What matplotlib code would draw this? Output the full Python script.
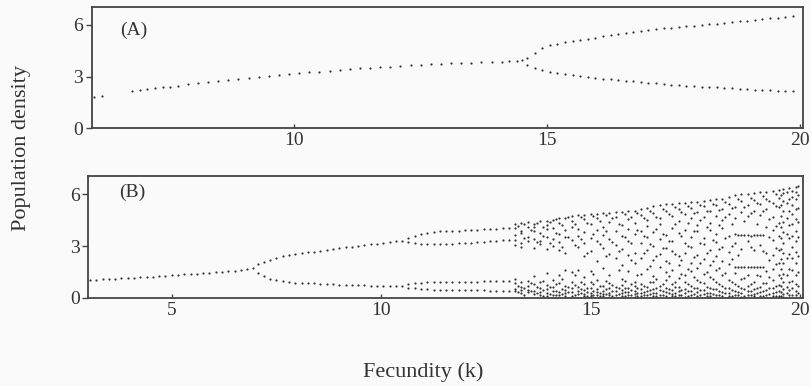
import matplotlib
matplotlib.use("Agg")
import matplotlib.pyplot as plt

# Panel A: period 1 branch, then the 2-cycle after k ~ 14.6
a_single_k = [6.05, 6.2, 6.8, 6.95, 7.1, 7.25, 7.4, 7.55, 7.7, 7.9, 8.1, 8.3, 8.5, 8.7, 8.9,
              9.1, 9.3, 9.5, 9.7, 9.9, 10.1, 10.3, 10.5, 10.7, 10.9, 11.1, 11.3, 11.5, 11.7,
              11.9, 12.1, 12.3, 12.5, 12.7, 12.9, 13.1, 13.3, 13.5, 13.7, 13.9, 14.1, 14.25,
              14.4, 14.5]
a_single_n = [1.82, 1.88, 2.14, 2.2, 2.26, 2.32, 2.37, 2.42, 2.47, 2.54, 2.6, 2.66, 2.72, 2.8,
              2.86, 2.92, 2.98, 3.03, 3.08, 3.13, 3.19, 3.24, 3.29, 3.34, 3.39, 3.43, 3.47,
              3.51, 3.55, 3.58, 3.62, 3.65, 3.68, 3.71, 3.74, 3.77, 3.79, 3.81, 3.83, 3.85,
              3.87, 3.89, 3.92, 3.97]
a_split_k = [14.6, 14.75, 14.9, 15.05, 15.2, 15.35, 15.5, 15.65, 15.8, 15.95, 16.1, 16.25,
             16.4, 16.55, 16.7, 16.85, 17.0, 17.15, 17.3, 17.45, 17.6, 17.75, 17.9, 18.05,
             18.2, 18.35, 18.5, 18.65, 18.8, 18.95, 19.1, 19.25, 19.4, 19.55, 19.7, 19.85]
a_upper_n = [4.1, 4.4, 4.65, 4.82, 4.92, 5.0, 5.07, 5.13, 5.2, 5.27, 5.34, 5.4, 5.48, 5.56,
             5.62, 5.67, 5.72, 5.76, 5.8, 5.84, 5.88, 5.92, 5.96, 6.0, 6.04, 6.08, 6.13, 6.18,
             6.22, 6.26, 6.3, 6.34, 6.38, 6.42, 6.46, 6.5]
a_lower_n = [3.68, 3.5, 3.36, 3.27, 3.2, 3.14, 3.08, 3.02, 2.97, 2.92, 2.88, 2.84, 2.8, 2.77,
             2.72, 2.68, 2.65, 2.61, 2.57, 2.53, 2.49, 2.46, 2.43, 2.41, 2.39, 2.37, 2.34,
             2.31, 2.28, 2.25, 2.23, 2.21, 2.2, 2.19, 2.18, 2.17]

# Panel B: period doubling route to chaos
b_single_k = [3.05, 3.2, 3.35, 3.5, 3.65, 3.8, 3.95, 4.1, 4.25, 4.4, 4.55, 4.7, 4.85, 5.0,
              5.15, 5.3, 5.45, 5.6, 5.75, 5.9, 6.05, 6.2, 6.35, 6.5, 6.65, 6.8, 6.95]
b_single_n = [1.03, 1.05, 1.07, 1.09, 1.11, 1.13, 1.15, 1.17, 1.19, 1.21, 1.23, 1.26, 1.28,
              1.31, 1.33, 1.36, 1.38, 1.41, 1.44, 1.47, 1.49, 1.52, 1.55, 1.58, 1.62, 1.66, 1.72]
b_p2_k = [7.05, 7.2, 7.35, 7.5, 7.65, 7.8, 7.95, 8.1, 8.25, 8.4, 8.55, 8.7, 8.85, 9.0, 9.15,
          9.3, 9.45, 9.6, 9.75, 9.9, 10.05, 10.2, 10.35, 10.5]
b_p2_hi = [1.95, 2.1, 2.22, 2.32, 2.41, 2.48, 2.54, 2.59, 2.64, 2.68, 2.72, 2.77, 2.82, 2.87,
           2.92, 2.97, 3.01, 3.05, 3.1, 3.14, 3.18, 3.22, 3.27, 3.32]
b_p2_lo = [1.45, 1.25, 1.12, 1.03, 0.96, 0.92, 0.89, 0.87, 0.85, 0.84, 0.82, 0.8, 0.79, 0.77,
           0.76, 0.75, 0.74, 0.73, 0.72, 0.71, 0.7, 0.7, 0.69, 0.69]
b_p4_k = [10.65, 10.8, 10.95, 11.1, 11.25, 11.4, 11.55, 11.7, 11.85, 12.0, 12.15, 12.3, 12.45,
          12.6, 12.75, 12.9, 13.05]
b_p4_a = [3.45, 3.6, 3.7, 3.78, 3.83, 3.86, 3.88, 3.89, 3.9, 3.91, 3.93, 3.95, 3.97, 3.98,
          4.0, 4.02, 4.05]
b_p4_b = [3.22, 3.15, 3.12, 3.1, 3.1, 3.11, 3.12, 3.14, 3.16, 3.18, 3.2, 3.23, 3.26, 3.29,
          3.3, 3.34, 3.38]
b_p4_c = [0.78, 0.84, 0.88, 0.9, 0.91, 0.92, 0.93, 0.93, 0.94, 0.94, 0.95, 0.95, 0.96, 0.97,
          0.98, 0.99, 1.0]
b_p4_d = [0.6, 0.55, 0.52, 0.5, 0.49, 0.48, 0.47, 0.47, 0.46, 0.46, 0.45, 0.45, 0.44, 0.43,
          0.42, 0.41, 0.4]

# chaotic region, one column of densities per k
chaos_k = [13.2, 13.35, 13.5, 13.65, 13.8, 13.95, 14.1, 14.25, 14.4, 14.55, 14.7, 14.85,
           15.0, 15.15, 15.3, 15.45, 15.6, 15.75, 15.9, 16.05, 16.2, 16.35, 16.5, 16.65,
           16.8, 16.95, 17.1, 17.25, 17.4, 17.55, 17.7, 17.85, 18.0, 18.15, 18.3, 18.45,
           18.6, 18.75, 18.9, 19.05, 19.2, 19.35, 19.5, 19.6, 19.75, 19.9]
chaos_n = [
    [4.28, 4.02, 3.62, 3.35, 3.05, 1.12, 0.88, 0.52, 0.42],
    [4.32, 3.9, 3.74, 3.2, 2.95, 0.95, 0.62, 0.45, 0.28],
    [4.38, 4.12, 3.52, 3.28, 0.98, 0.7, 0.48, 0.33],
    [4.3, 4.08, 3.86, 3.42, 2.9, 1.25, 0.82, 0.4, 0.22],
    [4.44, 3.78, 3.3, 3.12, 0.9, 0.58, 0.36, 0.18],
    [4.46, 4.2, 3.96, 3.55, 2.82, 1.45, 0.74, 0.5, 0.3, 0.12],
    [4.5, 4.05, 3.4, 3.0, 1.05, 0.62, 0.42, 0.2],
    [4.6, 4.32, 3.68, 3.22, 2.78, 1.3, 0.85, 0.35, 0.16],
    [4.62, 3.92, 3.5, 2.6, 1.6, 0.7, 0.48, 0.26, 0.1],
    [4.72, 4.45, 4.1, 3.36, 1.5, 0.9, 0.55, 0.32, 0.14],
    [4.78, 4.0, 3.6, 2.95, 1.62, 0.66, 0.4, 0.22],
    [4.82, 4.55, 3.82, 3.15, 2.4, 1.2, 0.78, 0.45, 0.25, 0.1],
    [4.86, 4.25, 3.45, 2.72, 1.58, 0.92, 0.58, 0.3, 0.12],
    [4.88, 4.62, 3.95, 3.3, 2.15, 1.05, 0.5, 0.35, 0.18],
    [4.9, 4.1, 3.65, 2.9, 1.75, 0.72, 0.42, 0.24, 0.1],
    [4.92, 4.4, 3.42, 2.55, 1.3, 0.88, 0.55, 0.3, 0.15],
    [4.95, 4.7, 3.85, 3.05, 2.3, 0.64, 0.38, 0.2],
    [4.96, 4.2, 3.58, 2.85, 1.9, 1.12, 0.75, 0.45, 0.28, 0.1],
    [5.0, 4.55, 4.0, 3.3, 2.48, 1.55, 0.58, 0.35, 0.16],
    [5.05, 4.35, 3.72, 2.62, 2.05, 0.95, 0.68, 0.42, 0.22, 0.08],
    [5.12, 4.8, 3.9, 3.15, 2.3, 1.4, 0.8, 0.5, 0.3, 0.14],
    [5.22, 4.48, 4.15, 3.5, 2.75, 1.65, 0.62, 0.38, 0.18],
    [5.3, 4.9, 3.8, 3.02, 2.2, 1.25, 0.9, 0.52, 0.26, 0.1],
    [5.38, 4.62, 4.3, 3.4, 2.55, 1.8, 0.72, 0.44, 0.2],
    [5.42, 5.02, 3.62, 2.88, 2.12, 1.48, 1.02, 0.58, 0.34, 0.12],
    [5.45, 4.72, 4.05, 3.28, 2.7, 1.62, 0.8, 0.48, 0.24, 0.1],
    [5.48, 5.15, 4.45, 3.75, 2.4, 1.92, 1.15, 0.66, 0.38, 0.16],
    [5.5, 4.85, 3.95, 3.2, 2.62, 1.35, 0.9, 0.54, 0.28, 0.08],
    [5.52, 5.22, 4.6, 3.55, 2.95, 2.05, 1.55, 0.72, 0.42, 0.2],
    [5.56, 4.95, 4.2, 3.85, 2.5, 1.75, 1.05, 0.6, 0.32, 0.12],
    [5.6, 5.3, 4.68, 3.45, 3.1, 2.25, 1.38, 0.85, 0.46, 0.22],
    [5.64, 5.05, 4.35, 3.95, 2.8, 1.9, 1.2, 0.55, 0.3, 0.1],
    [5.7, 5.38, 4.75, 3.7, 3.25, 2.4, 1.6, 0.95, 0.5, 0.2],
    [5.75, 5.12, 4.5, 4.05, 2.95, 2.12, 1.3, 0.7, 0.36, 0.14],
    [5.85, 5.45, 4.88, 3.58, 2.65, 1.95, 1.02, 0.6, 0.3, 0.1],
    [5.95, 5.28, 4.62, 3.68, 3.15, 1.8, 1.45, 0.82, 0.42, 0.18],
    [6.0, 5.58, 4.95, 3.66, 2.85, 1.8, 1.1, 0.56, 0.28, 0.08],
    [6.02, 5.35, 4.72, 3.64, 3.3, 1.78, 1.32, 0.72, 0.4, 0.16],
    [6.05, 5.65, 5.05, 3.62, 2.75, 1.8, 0.95, 0.5, 0.24, 0.1],
    [6.1, 5.42, 4.82, 3.66, 3.05, 1.82, 1.25, 0.66, 0.35, 0.14],
    [6.15, 5.72, 5.12, 4.1, 2.6, 1.58, 0.88, 0.46, 0.2],
    [6.2, 5.5, 4.7, 3.95, 3.35, 2.5, 1.7, 1.05, 0.58, 0.28, 0.1],
    [6.26, 5.8, 5.25, 4.35, 3.6, 2.8, 2.05, 1.35, 0.75, 0.38, 0.14],
    [6.3, 6.05, 5.6, 5.0, 4.4, 3.8, 3.2, 2.6, 2.0, 1.4, 0.9, 0.5, 0.22, 0.08],
    [6.34, 5.75, 5.05, 4.2, 3.45, 2.55, 1.65, 0.95, 0.45, 0.18],
    [6.42, 6.15, 5.7, 5.15, 4.55, 3.9, 3.3, 2.65, 2.0, 1.35, 0.8, 0.4, 0.15],
]
# in-between columns (mostly the dense band near zero)
chaos_mid_k = [13.27, 13.42, 13.57, 13.72, 13.87, 14.02, 14.17, 14.32, 14.47, 14.62, 14.77,
               14.92, 15.07, 15.22, 15.37, 15.52, 15.67, 15.82, 15.97, 16.12, 16.27, 16.42,
               16.57, 16.72, 16.87, 17.02, 17.17, 17.32, 17.47, 17.62, 17.77, 17.92, 18.07,
               18.22, 18.37, 18.52, 18.67, 18.82, 18.97, 19.12, 19.27, 19.42, 19.55, 19.68,
               19.82, 19.96]
chaos_mid_n = [
    [4.18, 0.7, 0.33],
    [4.25, 3.45, 0.58, 0.2],
    [3.95, 0.84, 0.4],
    [4.36, 3.25, 0.62, 0.3],
    [4.1, 3.6, 1.0, 0.46, 0.12],
    [4.4, 3.18, 0.66, 0.24],
    [4.55, 3.78, 0.8, 0.38, 0.15],
    [4.2, 2.92, 1.1, 0.5, 0.22],
    [4.66, 3.55, 0.62, 0.34],
    [4.25, 3.05, 1.35, 0.74, 0.18],
    [4.7, 3.4, 0.95, 0.5, 0.28],
    [4.35, 2.6, 0.6, 0.32, 0.12],
    [4.75, 3.7, 1.4, 0.8, 0.4, 0.2],
    [4.45, 3.1, 0.68, 0.26, 0.1],
    [4.82, 3.9, 2.4, 1.0, 0.5, 0.22],
    [4.6, 3.25, 0.76, 0.4, 0.12],
    [4.3, 2.7, 1.6, 0.55, 0.25],
    [4.85, 3.5, 0.98, 0.6, 0.32, 0.14],
    [4.7, 3.15, 2.2, 0.82, 0.45, 0.2],
    [4.9, 3.95, 1.3, 0.56, 0.28, 0.1],
    [4.6, 3.6, 2.6, 0.7, 0.36, 0.16],
    [5.0, 3.1, 1.85, 0.92, 0.48, 0.22],
    [4.7, 4.0, 2.4, 1.1, 0.6, 0.3, 0.1],
    [5.15, 3.7, 2.9, 0.78, 0.4, 0.18],
    [4.85, 3.3, 2.0, 1.25, 0.52, 0.26],
    [5.25, 4.25, 2.55, 0.95, 0.62, 0.3, 0.12],
    [4.95, 3.6, 2.2, 1.4, 0.46, 0.2],
    [5.3, 4.35, 3.0, 1.7, 0.78, 0.38, 0.14],
    [4.9, 3.9, 2.35, 1.2, 0.58, 0.24],
    [5.35, 4.5, 3.2, 2.0, 0.9, 0.44, 0.18],
    [5.0, 4.1, 2.6, 1.5, 0.65, 0.3, 0.1],
    [5.45, 3.35, 2.15, 1.08, 0.5, 0.22],
    [5.1, 4.2, 2.85, 1.75, 0.82, 0.4, 0.16],
    [5.55, 4.7, 3.45, 1.45, 0.6, 0.28],
    [5.2, 4.3, 3.0, 2.25, 0.92, 0.46, 0.12],
    [5.7, 3.62, 2.5, 1.79, 0.7, 0.34, 0.2],
    [5.25, 4.45, 3.63, 1.81, 1.15, 0.52, 0.1],
    [5.8, 4.9, 3.61, 2.95, 1.79, 0.78, 0.38, 0.18],
    [5.5, 4.25, 3.65, 1.8, 1.35, 0.6, 0.26],
    [5.9, 5.0, 3.64, 2.7, 1.81, 0.88, 0.42, 0.12],
    [5.6, 4.55, 3.55, 2.2, 1.2, 0.56, 0.24],
    [6.0, 5.3, 4.15, 2.9, 1.95, 0.7, 0.32, 0.1],
    [5.95, 5.4, 4.75, 4.1, 3.45, 2.85, 2.25, 1.7, 1.15, 0.7, 0.36, 0.14],
    [6.1, 5.5, 4.6, 3.7, 2.3, 1.3, 0.62, 0.28],
    [6.2, 5.85, 5.35, 4.85, 4.25, 3.6, 2.95, 2.3, 1.6, 1.0, 0.55, 0.2],
    [6.45, 5.95, 5.2, 4.4, 3.5, 2.4, 1.5, 0.7, 0.3],
]

plt.rcParams['font.family'] = ['Liberation Serif', 'DejaVu Serif']
dot = dict(s=2.5, color='#333333', linewidths=0)
ink = '#333333'

fig = plt.figure(figsize=(8.11, 3.86), dpi=100, facecolor='#fafafa')
axA = fig.add_axes([0.113, 0.668, 0.877, 0.314])
axB = fig.add_axes([0.1085, 0.228, 0.8815, 0.316])

# Panel A
axA.scatter(a_single_k, a_single_n, **dot)
axA.scatter(a_split_k, a_upper_n, **dot)
axA.scatter(a_split_k, a_lower_n, **dot)
axA.set_xlim(6, 20.05)
axA.set_xticks([10, 15, 20])

# Panel B
axB.scatter(b_single_k, b_single_n, **dot)
axB.scatter(b_p2_k, b_p2_hi, **dot)
axB.scatter(b_p2_k, b_p2_lo, **dot)
for branch in (b_p4_a, b_p4_b, b_p4_c, b_p4_d):
    axB.scatter(b_p4_k, branch, **dot)
for k, col in zip(chaos_k, chaos_n):
    axB.scatter([k] * len(col), col, **dot)
for k, col in zip(chaos_mid_k, chaos_mid_n):
    axB.scatter([k] * len(col), col, **dot)
axB.set_xlim(3, 20.07)
axB.set_xticks([5, 10, 15, 20])

for ax, lab, lx, ly in ((axA, '(A)', 0.059, 0.81), (axB, '(B)', 0.0615, 0.87)):
    ax.set_facecolor('#fafafa')
    ax.set_ylim(0, 7.05)
    ax.set_yticks([0, 3, 6])
    for sp in ax.spines.values():
        sp.set_color('#444444')
        sp.set_linewidth(1.3)
    ax.tick_params(axis='y', direction='out', length=4, width=1, colors='#444444',
                   labelcolor=ink, labelsize=14, pad=2)
    ax.tick_params(axis='x', direction='in', length=3, width=1, colors='#444444',
                   labelcolor=ink, labelsize=14, pad=3)
    ax.text(lx, ly, lab, transform=ax.transAxes, fontsize=14, color=ink,
            ha='center', va='center')

fig.text(0.027, 1 - 148 / 386, 'Population density', rotation=90, ha='center',
         va='center', fontsize=16, color=ink)
fig.text(423 / 811, 1 - 372 / 386, 'Fecundity (k)', ha='center', va='center',
         fontsize=16, color=ink)

fig.savefig('out.png', dpi=100, facecolor='#fafafa')
